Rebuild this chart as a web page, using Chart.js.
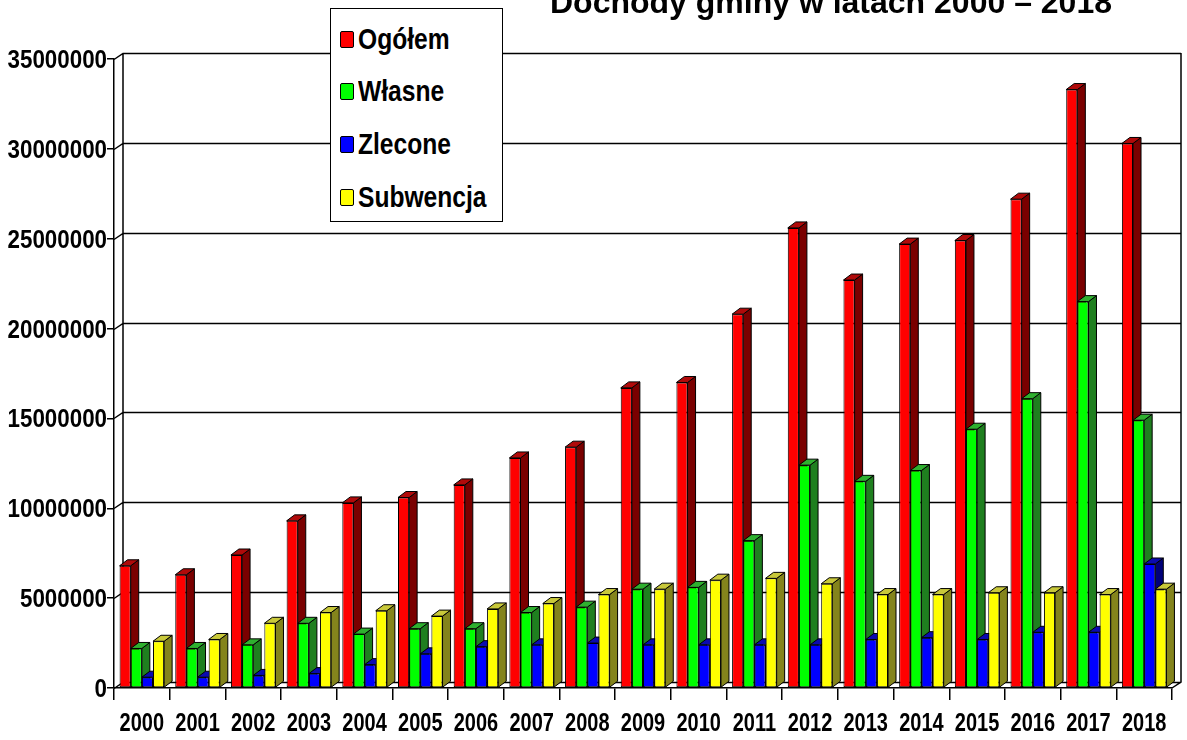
<!DOCTYPE html>
<html lang="pl">
<head>
<meta charset="utf-8">
<script src="https://cdn.jsdelivr.net/npm/chart.js@4/dist/chart.umd.min.js"></script>
<style>
  html, body { margin: 0; padding: 0; background: #fff; overflow: hidden; }
  #wrap { position: relative; width: 1187px; height: 740px; }
  #legend {
    position: absolute; left: 330px; top: 8px; width: 171px; height: 212px;
    background: #fff; border: 1.5px solid #000; box-sizing: content-box;
    font: bold 30px "Liberation Sans", Arial, sans-serif; color: #000;
  }
  #legend .row { position: absolute; left: 9px; height: 30px; display: flex; align-items: center; white-space: nowrap; }
  #legend .sw { width: 12px; height: 15px; border: 1px solid #000; border-radius: 2px; margin-right: 4px; flex: none; }
  #legend .tx { display: inline-block; transform: scaleX(0.82); transform-origin: 0 50%; }
</style>
</head>
<body>
<div id="wrap">
  <canvas id="c"></canvas>
  <div id="legend"></div>
</div>
<script>
// data (values in zł)
const years = ["2000", "2001", "2002", "2003", "2004", "2005", "2006", "2007", "2008", "2009",
  "2010", "2011", "2012", "2013", "2014", "2015", "2016", "2017", "2018"];
const seriesNames = ["Ogółem", "Własne", "Zlecone", "Subwencja"];
const ogolem = [6800000, 6300000, 7400000, 9300000, 10300000, 10600000, 11300000, 12800000, 13400000,
  16700000, 17000000, 20800000, 25600000, 22700000, 24700000, 24900000, 27200000, 33300000, 30300000];
const wlasne = [2200000, 2200000, 2400000, 3600000, 3000000, 3300000, 3300000, 4200000, 4500000,
  5500000, 5600000, 8200000, 12400000, 11500000, 12100000, 14400000, 16100000, 21500000, 14900000];
const zlecone = [600000, 600000, 700000, 800000, 1300000, 1900000, 2300000, 2400000, 2500000,
  2400000, 2400000, 2400000, 2400000, 2700000, 2800000, 2700000, 3100000, 3100000, 6900000];
const subwencja = [2600000, 2700000, 3600000, 4200000, 4300000, 4000000, 4400000, 4700000, 5200000,
  5500000, 6000000, 6100000, 5800000, 5200000, 5200000, 5300000, 5300000, 5200000, 5500000];
const yTicks = [0, 5000000, 10000000, 15000000, 20000000, 25000000, 30000000, 35000000];
const title = "Dochody gminy w latach 2000 – 2018";

// front / side / top colours for the fake 3D look
const frontColors = ["#ff0000", "#00ff00", "#0000ff", "#ffff00"];
const sideColors = ["#7a0000", "#1f7f1f", "#00007a", "#84841c"];
const capColors = ["#b00a0a", "#2fb02f", "#0a0ab0", "#c8c83a"];

const FONT = '"Liberation Sans", Arial, sans-serif';
const DX = 8, DY = 6;      // bar depth
const WX = 9, WY = 6;      // wall depth

// condensed bold text (the original uses a narrow face, which we don't have)
function narrowText(ctx, s, x, y, size, sx, align) {
  ctx.save();
  ctx.font = "bold " + size + "px " + FONT;
  ctx.fillStyle = "#000";
  ctx.textAlign = align;
  ctx.textBaseline = "alphabetic";
  ctx.translate(x, y);
  ctx.scale(sx, 1);
  ctx.fillText(s, 0, 0);
  ctx.restore();
}

// back wall + bar sides/caps, drawn before Chart.js paints the front faces
const depth3d = {
  id: "depth3d",
  beforeDatasetsDraw(chart) {
    const { ctx, chartArea: a, scales: { y } } = chart;
    ctx.save();
    ctx.strokeStyle = "#000";
    ctx.lineWidth = 1.5;
    ctx.beginPath();
    yTicks.forEach((v) => {
      const py = Math.round(y.getPixelForValue(v)) + 0.5;
      ctx.moveTo(a.left, py);
      ctx.lineTo(a.left + WX, py - WY);
      ctx.lineTo(a.right + WX, py - WY);
    });
    const top = y.getPixelForValue(yTicks[yTicks.length - 1]);
    const bot = y.getPixelForValue(0);
    ctx.moveTo(a.left + WX, top - WY);
    ctx.lineTo(a.left + WX, bot - WY);
    ctx.moveTo(a.right + WX, top - WY);
    ctx.lineTo(a.right + WX, bot - WY);
    ctx.lineTo(a.right, bot);
    ctx.stroke();

    ctx.lineWidth = 1;
    const metas = chart.getSortedVisibleDatasetMetas().sort((p, q) => p.index - q.index);
    for (let i = 0; i < years.length; i++) {
      metas.forEach((m) => {
        const b = m.data[i];
        const l = b.x - b.width / 2, r = b.x + b.width / 2;
        ctx.fillStyle = sideColors[m.index];
        ctx.beginPath();
        ctx.moveTo(r, b.y);
        ctx.lineTo(r + DX, b.y - DY);
        ctx.lineTo(r + DX, b.base - DY);
        ctx.lineTo(r, b.base);
        ctx.closePath();
        ctx.fill(); ctx.stroke();
        ctx.fillStyle = capColors[m.index];
        ctx.beginPath();
        ctx.moveTo(l, b.y);
        ctx.lineTo(l + DX, b.y - DY);
        ctx.lineTo(r + DX, b.y - DY);
        ctx.lineTo(r, b.y);
        ctx.closePath();
        ctx.fill(); ctx.stroke();
      });
    }
    ctx.restore();
  },
  afterDraw(chart) {
    const { ctx, scales: { x, y } } = chart;
    // axis labels, positioned by the scales
    years.forEach((lab, i) => narrowText(ctx, lab, x.getPixelForTick(i), 731, 25, 0.8, "center"));
    yTicks.forEach((v) => narrowText(ctx, String(v), 107, y.getPixelForValue(v) + 9, 26, 0.86, "right"));

    ctx.save();
    ctx.font = "bold 32px " + FONT;
    ctx.fillStyle = "#000";
    ctx.textAlign = "center";
    ctx.textBaseline = "alphabetic";
    ctx.fillText(title, 831, 13);
    ctx.restore();
  },
};

const series = [ogolem, wlasne, zlecone, subwencja];

new Chart(document.getElementById("c"), {
  type: "bar",
  data: {
    labels: years,
    datasets: series.map((d, k) => ({
      label: seriesNames[k],
      data: d,
      backgroundColor: frontColors[k],
      borderColor: "#000",
      borderWidth: 1,
      borderSkipped: false,
      categoryPercentage: 0.8,
      barPercentage: 1.0,
    })),
  },
  options: {
    responsive: true,
    maintainAspectRatio: false,
    animation: false,
    events: [],
    layout: { padding: { top: 59, right: 15, left: 0, bottom: 0 } },
    plugins: { legend: { display: false }, tooltip: { enabled: false }, title: { display: false } },
    scales: {
      x: {
        afterFit: (s) => { s.height = 52; },
        border: { display: true, color: "#000", width: 1.5 },
        grid: { offset: true, drawOnChartArea: false, color: "#000", lineWidth: 1.5, tickLength: 12 },
        ticks: { display: false, autoSkip: false },
      },
      y: {
        min: 0, max: 35000000,
        afterFit: (s) => { s.width = 114; },
        afterBuildTicks: (s) => { s.ticks = yTicks.map((v) => ({ value: v })); },
        border: { display: true, color: "#000", width: 1.5 },
        grid: { drawOnChartArea: false, color: "#000", lineWidth: 1.5, tickLength: 7 },
        ticks: { display: false },
      },
    },
  },
  plugins: [depth3d],
});

// legend box
const lg = document.getElementById("legend");
const rowTops = [15, 67, 120, 173];
seriesNames.forEach((n, k) => {
  const row = document.createElement("div");
  row.className = "row";
  row.style.top = rowTops[k] + "px";
  row.innerHTML = '<span class="sw" style="background:' + frontColors[k] + '"></span><span class="tx">' + n + "</span>";
  lg.appendChild(row);
});
</script>
</body>
</html>
